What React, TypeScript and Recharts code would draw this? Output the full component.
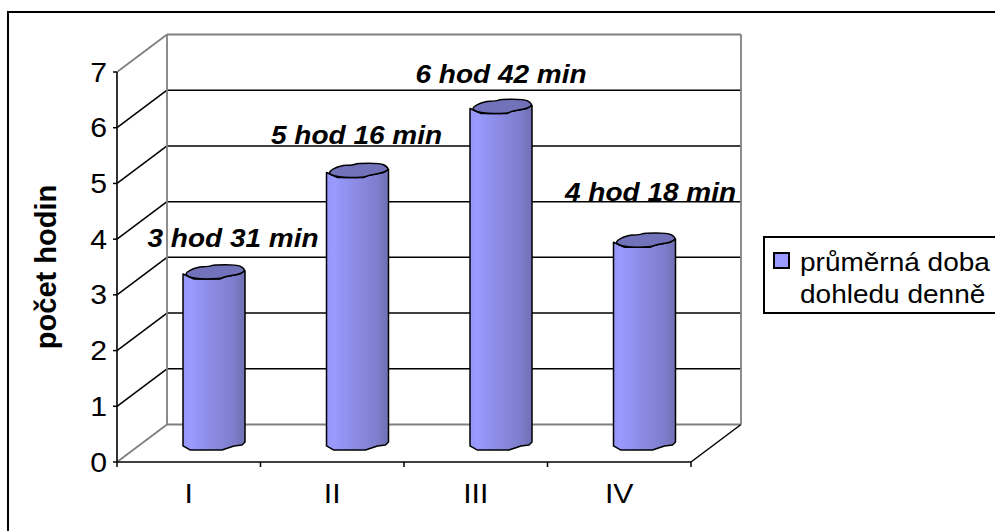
import React from "react";
import { BarChart, Bar, XAxis, YAxis, CartesianGrid, LabelList, Legend } from "recharts";

const categories = ["I", "II", "III", "IV"];
const hours = [3.08, 4.9, 6.05, 3.65];
const labels = ["3 hod 31 min", "5 hod 16 min", "6 hod 42 min", "4 hod 18 min"];
const yTicks = [0, 1, 2, 3, 4, 5, 6, 7];
const seriesName = ["průměrná doba", "dohledu denně"];

const data = categories.map((c, i) => ({ cat: c, hours: hours[i], label: labels[i] }));

const FONT = "'Liberation Sans', Arial, sans-serif";
const DEPTH_X = 50;
const DEPTH_Y = -37.5;
const PLOT_W = 574;
const STRETCH = 1.12;
const labelNudge = [
  { dx: 19, dy: -34 },
  { dx: -1, dy: -35 },
  { dx: 0, dy: -32 },
  { dx: 6, dy: -48 },
];

const topShape = [[0, 2.3], [14, -5], [26, -5], [31, -7], [54, -7], [60, -4], [62, -1], [57, 2.3], [42, 5], [37, 7.3], [11, 7.3]];
const bottomShape = [[62, -1.3], [59, 1.7], [51, 2.7], [39, 6.7], [7, 6.7], [0, 2.7]];

function smoothClosed(pts: number[][]) {
  const mid = (a: number[], b: number[]) => [(a[0] + b[0]) / 2, (a[1] + b[1]) / 2];
  const n = pts.length;
  const start = mid(pts[n - 1], pts[0]);
  let d = `M${start[0]},${start[1]}`;
  pts.forEach((p, i) => {
    const m = mid(p, pts[(i + 1) % n]);
    d += ` Q${p[0]},${p[1]} ${m[0]},${m[1]}`;
  });
  return d + " Z";
}

function Cylinder(props: any) {
  const { x, y, width, height } = props;
  const ox = x + DEPTH_X / 2;
  const oy = DEPTH_Y / 2;
  const top = y + oy;
  const base = y + height + oy;
  const s = width / 62;
  const pt = (p: number[], y0: number) => `${ox + p[0] * s},${y0 + p[1]}`;
  const bodyTop = [[0, 2.3], [11, 7.3], [37, 7.3], [42, 5], [57, 2.3], [62, -1]];
  const body =
    bodyTop.map((p) => pt(p, top)).join(" ") + " " + bottomShape.map((p) => pt(p, base)).join(" ");
  const cap = smoothClosed(topShape.map((p) => [ox + p[0] * s, top + p[1]]));
  return (
    <g>
      <polygon points={body} fill="url(#cyl)" stroke="#000" strokeWidth={1.5} strokeLinejoin="round" />
      <path d={cap} fill="#7272BA" stroke="#000" strokeWidth={1.5} strokeLinejoin="round" />
    </g>
  );
}

function GridLine(props: any) {
  const { x1, x2, y1 } = props;
  const grey = "#808080";
  const isTop = y1 < 73;
  const isFloor = y1 > 461;
  const bx1 = x1 + DEPTH_X;
  const bx2 = x2 + DEPTH_X;
  const by = y1 + DEPTH_Y;
  const c = isTop || isFloor ? grey : "#000";
  const w = isTop || isFloor ? 1.8 : 1.5;
  return (
    <g>
      <line x1={x1} y1={y1} x2={bx1} y2={by} stroke={c} strokeWidth={w} />
      <line x1={bx1} y1={by} x2={bx2} y2={by} stroke={c} strokeWidth={w} />
      {isFloor && <line x1={x2} y1={y1} x2={bx2} y2={by} stroke="#000" strokeWidth={1.5} />}
      {isTop && <line x1={bx1} y1={by} x2={bx1} y2={by + 390} stroke={grey} strokeWidth={1.8} />}
      {isTop && <line x1={bx2} y1={by} x2={bx2} y2={by + 390} stroke={grey} strokeWidth={1.8} />}
    </g>
  );
}

function CategoryTick(props: any) {
  const { x, y, payload, index } = props;
  const band = PLOT_W / categories.length;
  return (
    <g>
      {index === 0 && <line x1={x - band / 2} y1={y - 8} x2={x - band / 2} y2={y - 3} stroke="#000" strokeWidth={1.5} />}
      <line x1={x + band / 2} y1={y - 8} x2={x + band / 2} y2={y - 3} stroke="#000" strokeWidth={1.5} />
      <text
        transform={`translate(${x},${y + 33}) scale(${STRETCH},1)`}
        textAnchor="middle"
        fontFamily={FONT}
        fontSize={27}
        fill="#000"
      >
        {payload.value}
      </text>
    </g>
  );
}

function ValueTick(props: any) {
  const { x, y, payload } = props;
  return (
    <text
      transform={`translate(${x},${y + 9.5}) scale(${STRETCH},1)`}
      textAnchor="end"
      fontFamily={FONT}
      fontSize={27}
      fill="#000"
    >
      {payload.value}
    </text>
  );
}

function ValueLabel(props: any) {
  const { x, y, width, index, value } = props;
  const n = labelNudge[index];
  return (
    <text
      transform={`translate(${x + width / 2 + DEPTH_X / 2 + n.dx},${y + DEPTH_Y / 2 + n.dy + 9}) scale(${STRETCH},1)`}
      textAnchor="middle"
      fontFamily={FONT}
      fontSize={25}
      fontWeight="bold"
      fontStyle="italic"
      fill="#000"
    >
      {value}
    </text>
  );
}

function LegendBox() {
  return (
    <div
      style={{
        position: "relative",
        width: 240,
        height: 78,
        boxSizing: "border-box",
        border: "2px solid #000",
        background: "#fff",
        fontFamily: FONT,
        fontSize: 25,
        color: "#000",
        lineHeight: "32px",
        whiteSpace: "nowrap",
      }}
    >
      <span
        style={{
          position: "absolute",
          left: 8,
          top: 14,
          width: 13,
          height: 13,
          background: "#9999FF",
          border: "2px solid #000",
        }}
      />
      <div style={{ position: "absolute", left: 35, top: 8, transform: `scaleX(${STRETCH})`, transformOrigin: "0 0" }}>{seriesName[0]}</div>
      <div style={{ position: "absolute", left: 35, top: 40, transform: `scaleX(${STRETCH})`, transformOrigin: "0 0" }}>{seriesName[1]}</div>
    </div>
  );
}

export default function App() {
  return (
    <div style={{ position: "absolute", left: 0, top: 0, width: 995, height: 531, overflow: "hidden", background: "#fff" }}>
      <div
        style={{
          position: "absolute",
          left: 7,
          top: 11,
          width: 1100,
          height: 540,
          boxSizing: "border-box",
          border: "2px solid #000",
        }}
      />
      <BarChart
        width={995}
        height={531}
        data={data}
        margin={{ top: 72, right: 304, bottom: 0, left: 40 }}
        barCategoryGap={0}
        style={{ position: "absolute", left: 0, top: 0 }}
      >
        <defs>
          <linearGradient id="cyl" x1="0" y1="0" x2="1" y2="0">
            <stop offset="0" stopColor="#9696F8" />
            <stop offset="0.12" stopColor="#9A9AFF" />
            <stop offset="0.24" stopColor="#9494F4" />
            <stop offset="0.6" stopColor="#8686DC" />
            <stop offset="0.8" stopColor="#7E7ECE" />
            <stop offset="1" stopColor="#7070B4" />
          </linearGradient>
        </defs>
        <CartesianGrid horizontal={GridLine as any} vertical={false} />
        <XAxis
          dataKey="cat"
          interval={0}
          axisLine={{ stroke: "#000", strokeWidth: 1.6 }}
          tickLine={false}
          tick={CategoryTick as any}
          height={69}
        />
        <YAxis
          domain={[0, 7]}
          ticks={yTicks}
          interval={0}
          width={77}
          axisLine={{ stroke: "#000", strokeWidth: 1.6 }}
          tickLine={{ stroke: "#000", strokeWidth: 1.5 }}
          tickSize={4}
          tickMargin={6}
          tick={ValueTick as any}
          label={{
            value: "počet hodin",
            angle: -90,
            position: "insideLeft",
            offset: 6,
            style: { fontFamily: FONT, fontSize: 29, fontWeight: "bold", fill: "#000", textAnchor: "middle" },
          }}
        />
        <Legend
          layout="horizontal"
          align="center"
          verticalAlign="middle"
          content={<LegendBox />}
          wrapperStyle={{ position: "absolute", left: 763, top: 236, width: 240, right: "auto", bottom: "auto" }}
        />
        <Bar dataKey="hours" barSize={62} shape={<Cylinder />} isAnimationActive={false}>
          <LabelList dataKey="label" content={ValueLabel as any} />
        </Bar>
      </BarChart>
    </div>
  );
}
